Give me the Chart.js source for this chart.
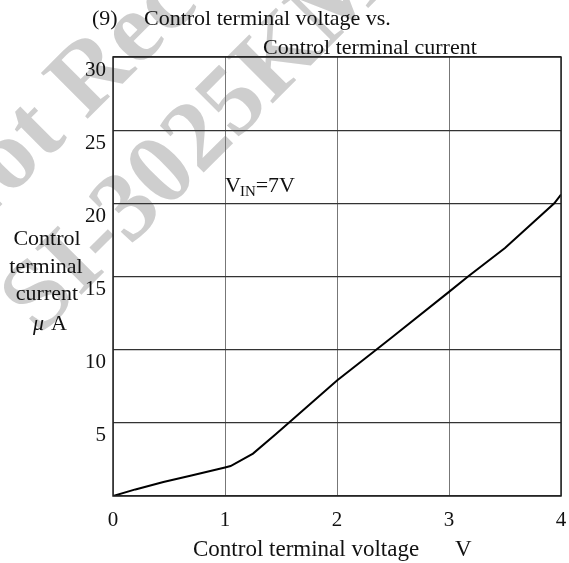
<!DOCTYPE html>
<html>
<head>
<meta charset="utf-8">
<script src="https://cdn.jsdelivr.net/npm/chart.js@4.4.1/dist/chart.umd.min.js"></script>
<style>
body{margin:0;background:#fff}
#wrap{width:569px;height:563px}
</style>
</head>
<body>
<div id="wrap"><canvas id="chart" width="569" height="563"></canvas></div>
<script>
// curve (V, uA)
let voltage = [0, 0.2, 0.45, 0.7, 1.0, 1.05, 1.25, 1.45, 1.57, 2.0, 2.35, 2.5, 3.0, 3.17, 3.5, 3.94, 4.0]
let current = [0, 0.45, 0.96, 1.4, 1.95, 2.05, 2.9, 4.2, 5.0, 7.9, 10.0, 10.9, 13.95, 15.0, 16.95, 20.0, 20.6]

let xTicks = [0, 1, 2, 3, 4]
let yTicks = [5, 10, 15, 20, 25, 30]

let serif = "'Liberation Serif', 'Times New Roman', serif"

let points = voltage.map((v, i) => ({x: v, y: current[i]}))

let textPlugin = {
id: "texts",
beforeDraw(chart){
let ctx = chart.ctx
ctx.save()
// faint watermark behind the chart
ctx.fillStyle = "rgba(185,185,185,0.7)"
ctx.font = "bold 100px " + serif
ctx.rotate(-Math.PI/4)
ctx.fillText("Not Recommended for New Design", -205, 146)
ctx.fillText("SI-3025KM", -210, 266)
ctx.restore()
},
afterDraw(chart){
let ctx = chart.ctx
let a = chart.chartArea
ctx.save()
ctx.strokeStyle = "#222"
ctx.lineWidth = 1.5
ctx.strokeRect(a.left, a.top, a.right - a.left, a.bottom - a.top)

ctx.fillStyle = "#111"
ctx.textBaseline = "alphabetic"
ctx.textAlign = "left"
ctx.font = "22px " + serif
ctx.fillText("(9)", 92, 25)
ctx.fillText("Control terminal voltage vs.", 144, 25)
ctx.fillText("Control terminal current", 263, 54)

// y axis title
ctx.textAlign = "center"
ctx.fillText("Control", 47, 245)
ctx.fillText("terminal", 46, 273)
ctx.fillText("current", 47, 300)
ctx.textAlign = "left"
ctx.font = "italic 22px " + serif
ctx.fillText("\u03BC", 33, 330)
ctx.font = "22px " + serif
ctx.fillText("A", 51, 330)

// x axis title
ctx.font = "23px " + serif
ctx.fillText("Control terminal voltage", 193, 556)
ctx.fillText("V", 455, 556)

// V_IN=7V label
ctx.font = "22px " + serif
ctx.fillText("V", 225, 192)
let w = ctx.measureText("V").width
ctx.font = "15px " + serif
ctx.fillText("IN", 225 + w - 1, 196)
let w2 = ctx.measureText("IN").width
ctx.font = "22px " + serif
ctx.fillText("=7V", 225 + w + w2 - 1, 192)
ctx.restore()
}
}

new Chart(document.getElementById("chart"), {
type: "scatter",
data: {
datasets: [{
data: points,
showLine: true,
borderColor: "#000",
borderWidth: 2,
pointRadius: 0,
tension: 0
}]
},
options: {
responsive: false,
animation: false,
layout: {padding: {top: 57, right: 8, left: 0, bottom: 0}},
plugins: {legend: {display: false}, tooltip: {enabled: false}},
scales: {
x: {
type: "linear",
min: 0,
max: 4,
afterBuildTicks: s => { s.ticks = xTicks.map(v => ({value: v})) },
afterFit: s => { s.height = 67; s.paddingLeft = 0; s.paddingRight = 0 },
ticks: {color: "#111", font: {family: serif, size: 21}, padding: 12, maxRotation: 0},
grid: {color: "#777", lineWidth: 1, drawTicks: false},
border: {display: false}
},
y: {
type: "linear",
min: 0,
max: 30,
afterBuildTicks: s => { s.ticks = [0].concat(yTicks).map(v => ({value: v})) },
afterFit: s => { s.width = 113; s.paddingTop = 0; s.paddingBottom = 0 },
ticks: {
color: "#111",
font: {family: serif, size: 21},
padding: 7,
labelOffset: 13,
callback: v => v == 0 ? "" : v
},
grid: {color: "#333", lineWidth: 1.3, drawTicks: false},
border: {display: false}
}
}
},
plugins: [textPlugin]
})
</script>
</body>
</html>
